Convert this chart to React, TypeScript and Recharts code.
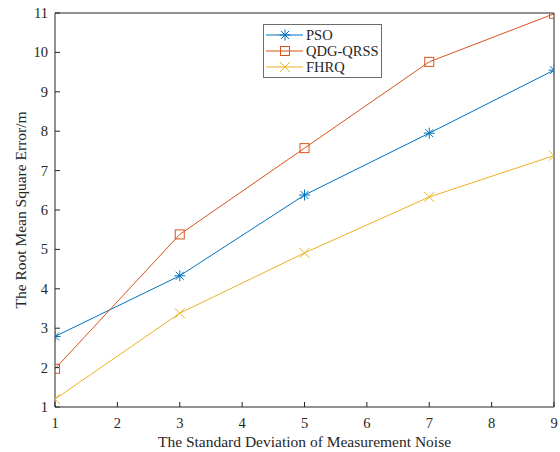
import React from 'react';
import {
  LineChart, Line, XAxis, YAxis, Legend, Label
} from 'recharts';

const noiseStd = [1, 3, 5, 7, 9];
const psoRmse = [2.79, 4.33, 6.38, 7.95, 9.55];
const qdgRmse = [1.97, 5.38, 7.57, 9.76, 10.98];
const fhrqRmse = [1.2, 3.38, 4.91, 6.33, 7.38];
const xTicks = [1, 2, 3, 4, 5, 6, 7, 8, 9];
const yTicks = [1, 2, 3, 4, 5, 6, 7, 8, 9, 10, 11];

const data = noiseStd.map((n, i) => ({
  noise: n,
  pso: psoRmse[i],
  qdg: qdgRmse[i],
  fhrq: fhrqRmse[i],
}));

const FONT = 'Liberation Serif';
const AXIS = '#262626';
const BLUE = '#0072BD';
const ORANGE = '#D95319';
const YELLOW = '#EDB120';

type Shape = 'star' | 'square' | 'cross';

function Marker({ cx, cy, shape, color }: { cx: number; cy: number; shape: Shape; color: string }) {
  if (shape === 'star') {
    const r = 5.5, d = 4;
    return (
      <g stroke={color} strokeWidth={1}>
        <line x1={cx - r} y1={cy} x2={cx + r} y2={cy} />
        <line x1={cx} y1={cy - r} x2={cx} y2={cy + r} />
        <line x1={cx - d} y1={cy - d} x2={cx + d} y2={cy + d} />
        <line x1={cx - d} y1={cy + d} x2={cx + d} y2={cy - d} />
      </g>
    );
  }
  if (shape === 'square') {
    return <rect x={cx - 4.5} y={cy - 4.5} width={9} height={9} fill="none" stroke={color} strokeWidth={1} />;
  }
  const r = 5;
  return (
    <g stroke={color} strokeWidth={1}>
      <line x1={cx - r} y1={cy - r} x2={cx + r} y2={cy + r} />
      <line x1={cx - r} y1={cy + r} x2={cx + r} y2={cy - r} />
    </g>
  );
}

const dotFor = (shape: Shape, color: string) => (props: any) => (
  <Marker key={`${shape}-${props.index}`} cx={props.cx} cy={props.cy} shape={shape} color={color} />
);

const XTick = (props: any) => (
  <text x={props.x} y={props.y + 11} textAnchor="middle" fontFamily={FONT} fontSize={14.5} fill={AXIS}>
    {props.payload.value}
  </text>
);

const YTick = (props: any) => (
  <text x={props.x} y={props.y + 5} textAnchor="end" fontFamily={FONT} fontSize={14.5} fill={AXIS}>
    {props.payload.value}
  </text>
);

const XLabel = (props: any) => {
  const vb = props.viewBox;
  return (
    <text x={vb.x + vb.width / 2} y={vb.y + 40} textAnchor="middle" fontFamily={FONT} fontSize={15.5} fill={AXIS}>
      The Standard Deviation of Measurement Noise
    </text>
  );
};

const YLabel = (props: any) => {
  const vb = props.viewBox;
  const cy = vb.y + vb.height / 2;
  return (
    <text x={26} y={cy} transform={`rotate(-90, 26, ${cy})`} textAnchor="middle" fontFamily={FONT} fontSize={15.5} fill={AXIS}>
      The Root Mean Square Error/m
    </text>
  );
};

const legendItems: { name: string; shape: Shape; color: string }[] = [
  { name: 'PSO', shape: 'star', color: BLUE },
  { name: 'QDG-QRSS', shape: 'square', color: ORANGE },
  { name: 'FHRQ', shape: 'cross', color: YELLOW },
];

function LegendBox() {
  return (
    <svg width={119} height={54} style={{ display: 'block' }}>
      <rect x={0.5} y={0.5} width={118} height={53} fill="#fff" stroke="#6b6b6b" strokeWidth={1} />
      {legendItems.map((it, i) => {
        const y = 11 + i * 16;
        return (
          <g key={it.name}>
            <line x1={3} y1={y} x2={40} y2={y} stroke={it.color} strokeWidth={1} />
            <Marker cx={22} cy={y} shape={it.shape} color={it.color} />
            <text x={43} y={y + 5} fontFamily={FONT} fontSize={14.5} fill={AXIS}>{it.name}</text>
          </g>
        );
      })}
    </svg>
  );
}

export default function App() {
  return (
    <div style={{ position: 'absolute', left: 0, top: 0, background: '#fff' }}>
      <LineChart width={560} height={452} data={data} margin={{ top: 13, right: 6, left: 0, bottom: 0 }}>
        <XAxis
          dataKey="noise"
          type="number"
          domain={[1, 9]}
          ticks={xTicks}
          stroke={AXIS}
          height={45}
          tickSize={-5}
          tickMargin={15}
          tick={<XTick />}
          allowDataOverflow
        >
          <Label content={<XLabel />} />
        </XAxis>
        <XAxis
          xAxisId="top"
          orientation="top"
          dataKey="noise"
          type="number"
          domain={[1, 9]}
          ticks={xTicks}
          stroke={AXIS}
          height={1}
          mirror
          tickSize={5}
          tick={false}
          allowDataOverflow
        />
        <YAxis
          type="number"
          domain={[1, 11]}
          ticks={yTicks}
          stroke={AXIS}
          width={55}
          tickSize={-5}
          tickMargin={12}
          tick={<YTick />}
          allowDataOverflow
        >
          <Label content={<YLabel />} />
        </YAxis>
        <YAxis
          yAxisId="right"
          orientation="right"
          type="number"
          domain={[1, 11]}
          ticks={yTicks}
          stroke={AXIS}
          width={1}
          mirror
          tickSize={5}
          tick={false}
          allowDataOverflow
        />
        <Legend
          layout="vertical"
          align="center"
          verticalAlign="middle"
          content={() => <LegendBox />}
          wrapperStyle={{ position: 'absolute', left: 263, top: 24, width: 119, height: 54 }}
        />
        <Line dataKey="pso" name="PSO" stroke={BLUE} strokeWidth={1} dot={dotFor('star', BLUE)} isAnimationActive={false} />
        <Line dataKey="qdg" name="QDG-QRSS" stroke={ORANGE} strokeWidth={1} dot={dotFor('square', ORANGE)} isAnimationActive={false} />
        <Line dataKey="fhrq" name="FHRQ" stroke={YELLOW} strokeWidth={1} dot={dotFor('cross', YELLOW)} isAnimationActive={false} />
      </LineChart>
    </div>
  );
}
